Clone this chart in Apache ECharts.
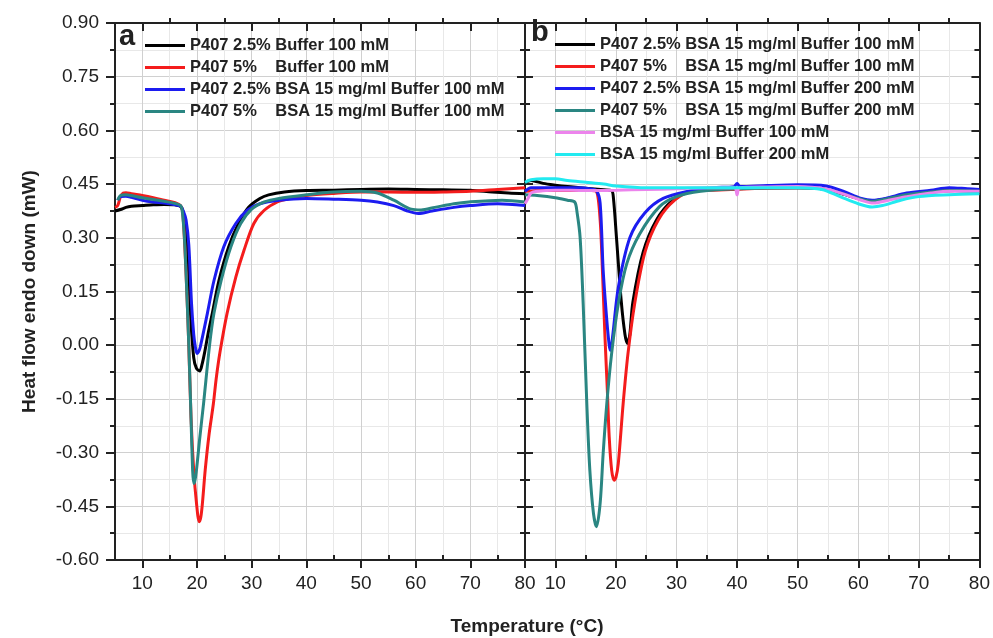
<!DOCTYPE html>
<html><head><meta charset="utf-8">
<script src="https://cdn.jsdelivr.net/npm/echarts@6/dist/echarts.min.js"></script>
<style>html,body{margin:0;padding:0;background:#fff}#c{width:993px;height:638px}</style>
</head><body><div id="c"></div><script>
// ---- tick labels ----
const xMajorTicks = [10, 20, 30, 40, 50, 60, 70, 80];
const xMinorTicks = [15, 25, 35, 45, 55, 65, 75];
const yTickLabels = ['-0.60','-0.45','-0.30','-0.15','0.00','0.15','0.30','0.45','0.60','0.75','0.90'];

// ---- legend labels ----
const labelsA = ['P407 2.5% Buffer 100 mM', 'P407 5%    Buffer 100 mM',
  'P407 2.5% BSA 15 mg/ml Buffer 100 mM', 'P407 5%    BSA 15 mg/ml Buffer 100 mM'];
const labelsB = ['P407 2.5% BSA 15 mg/ml Buffer 100 mM', 'P407 5%    BSA 15 mg/ml Buffer 100 mM',
  'P407 2.5% BSA 15 mg/ml Buffer 200 mM', 'P407 5%    BSA 15 mg/ml Buffer 200 mM',
  'BSA 15 mg/ml Buffer 100 mM', 'BSA 15 mg/ml Buffer 200 mM'];

// ---- panel a data: [temperature °C, heat flow mW] ----
const a1 = [[5,0.375],[6,0.379],[7,0.385],[8,0.388],[10,0.390],[12,0.392],[14,0.393],[16,0.392],[17,0.388],[17.5,0.37],[18.2,0.28],[18.8,0.089],[19.4,-0.035],[19.9,-0.065],[20.5,-0.072],[20.9,-0.055],[21.4,-0.02],[22.0,0.03],[22.8,0.089],[24.0,0.18],[25.8,0.275],[27.6,0.34],[29.4,0.385],[31.5,0.41],[33.1,0.42],[36,0.428],[40,0.432],[45,0.433],[50,0.435],[55,0.436],[60,0.435],[65,0.434],[70,0.433],[74,0.428],[77,0.425],[80,0.423]];
const a2 = [[5,0.385],[5.5,0.39],[6,0.415],[6.5,0.425],[7,0.426],[8,0.423],[10,0.418],[12,0.412],[14,0.405],[16,0.398],[17,0.39],[17.4,0.37],[18,0.2],[18.5,0.0],[18.9,-0.2],[19.4,-0.35],[19.9,-0.44],[20.4,-0.493],[20.7,-0.48],[21,-0.44],[21.5,-0.349],[22.2,-0.25],[23,-0.163],[23.5,-0.095],[24.2,-0.02],[25.5,0.089],[27.1,0.19],[28.6,0.265],[30.4,0.34],[32.3,0.377],[34.7,0.40],[37,0.41],[40,0.418],[45,0.424],[50,0.428],[55,0.428],[60,0.427],[65,0.428],[70,0.43],[75,0.435],[80,0.44]];
const a3 = [[5.5,0.405],[6,0.415],[7,0.416],[8,0.413],[10,0.405],[12,0.40],[14,0.397],[16,0.392],[17,0.388],[17.5,0.375],[18,0.35],[18.5,0.28],[19,0.116],[19.4,0.03],[19.7,-0.005],[20.0,-0.023],[20.3,-0.018],[20.6,-0.005],[21.9,0.089],[23.1,0.18],[24.9,0.275],[27.1,0.34],[29.2,0.377],[31.5,0.395],[35,0.405],[40,0.41],[45,0.408],[50,0.405],[53,0.40],[56,0.39],[58.5,0.375],[60.5,0.368],[63,0.375],[67,0.385],[70,0.39],[75,0.395],[80,0.39]];
const a4 = [[5.5,0.405],[6,0.418],[7,0.42],[8,0.418],[10,0.412],[12,0.407],[14,0.402],[16,0.396],[17,0.39],[17.3,0.375],[17.7,0.30],[18.0,0.2],[18.5,0.0],[18.9,-0.2],[19.2,-0.35],[19.4,-0.386],[19.6,-0.38],[19.9,-0.349],[20.5,-0.26],[21.2,-0.163],[22.3,0.0],[23.1,0.089],[24.4,0.18],[26.2,0.275],[28,0.34],[30,0.38],[32.3,0.40],[35,0.41],[40,0.42],[45,0.428],[50,0.43],[53,0.425],[56,0.405],[59.2,0.38],[61,0.378],[63.5,0.385],[67,0.395],[69.7,0.40],[75.8,0.405],[80,0.40]];

// ---- panel b data ----
const b1 = [[5,0.455],[6,0.46],[8,0.452],[10,0.447],[12,0.443],[14,0.44],[16,0.437],[18,0.434],[19.3,0.432],[19.6,0.41],[20.1,0.30],[20.9,0.12],[21.5,0.03],[21.9,0.005],[22.3,0.03],[22.8,0.12],[24.5,0.26],[26.7,0.35],[29.4,0.405],[32.2,0.43],[36,0.435],[40,0.437],[45,0.44],[50,0.44],[54,0.437],[57,0.425],[60,0.41],[62.3,0.403],[65,0.41],[68,0.42],[72,0.428],[76,0.432],[80,0.43]];
const b2 = [[5,0.43],[8,0.432],[12,0.432],[16,0.432],[16.8,0.43],[17.4,0.35],[17.8,0.2],[18.2,0.023],[18.6,-0.13],[18.9,-0.257],[19.3,-0.349],[19.7,-0.377],[20.0,-0.37],[20.4,-0.33],[21.2,-0.163],[22.0,-0.023],[23.1,0.116],[24.8,0.26],[27,0.35],[29.7,0.405],[32.5,0.43],[36,0.433],[42,0.437],[50,0.44],[54,0.437],[57,0.425],[60,0.41],[62.3,0.403],[65,0.41],[68,0.42],[72,0.428],[76,0.432],[80,0.43]];
const b3 = [[5,0.43],[6,0.44],[10,0.44],[14,0.44],[16,0.436],[16.8,0.432],[17.4,0.397],[17.9,0.21],[18.5,0.07],[18.9,0.0],[19.1,-0.014],[19.5,0.03],[20.4,0.161],[22.3,0.30],[24.8,0.37],[27.8,0.41],[32,0.43],[36,0.44],[39.5,0.443],[40,0.452],[40.5,0.443],[45,0.446],[50,0.448],[54.7,0.445],[57.5,0.43],[60.5,0.41],[62.3,0.405],[64.5,0.41],[68,0.425],[72,0.433],[75,0.44],[78,0.437],[80,0.435]];
const b4 = [[5,0.42],[7,0.418],[10,0.412],[12,0.405],[13.2,0.40],[13.6,0.37],[14.1,0.30],[14.6,0.116],[15.2,-0.163],[15.7,-0.349],[16.3,-0.47],[16.8,-0.507],[17.4,-0.442],[17.9,-0.302],[18.5,-0.163],[19.3,-0.023],[20.4,0.116],[21.8,0.228],[23.9,0.31],[27.2,0.387],[30,0.415],[34,0.43],[40,0.437],[50,0.44],[54,0.437],[57,0.425],[60,0.41],[62.3,0.402],[65,0.41],[68,0.42],[72,0.428],[76,0.432],[80,0.43]];
const b5 = [[5,0.395],[5.5,0.41],[6,0.425],[7,0.43],[10,0.433],[15,0.432],[20,0.433],[25,0.435],[30,0.437],[35,0.44],[39.6,0.44],[40,0.42],[40.4,0.44],[45,0.442],[50,0.443],[55,0.435],[58,0.42],[60.5,0.405],[62.5,0.397],[65,0.405],[68,0.415],[72,0.425],[75,0.43],[80,0.43]];
const b6 = [[5,0.455],[6,0.462],[8,0.465],[10,0.465],[12,0.46],[15,0.455],[18,0.45],[20,0.445],[25,0.44],[30,0.44],[40,0.44],[50,0.44],[54,0.435],[57,0.415],[60,0.395],[62.3,0.386],[64,0.39],[67,0.405],[70,0.415],[75,0.42],[80,0.423]];

const seriesA = [a1, a2, a3, a4];
const seriesB = [b1, b2, b3, b4, b5, b6];
const colorsA = ['#000000', '#f41c1c', '#1c1cf0', '#2a8682'];
const colorsB = ['#000000', '#f41c1c', '#1c1cf0', '#2a8682', '#ec84ec', '#22eaf0'];

const FONT = 'Liberation Sans, Arial, sans-serif';
const AX = '#222';
const MAJ = '#d0d0d0', MIN = '#e8e8e8';

function xAxes(g) {
  const base = {gridIndex: g, type: 'value', min: 5, max: 80, interval: 5};
  return [
    {...base, position: 'bottom',
      axisLine: {show: true, onZero: false, lineStyle: {color: AX, width: 2}},
      axisTick: {show: true, customValues: xMajorTicks, length: 8, lineStyle: {color: AX, width: 2}},
      axisLabel: {show: true, customValues: xMajorTicks, margin: 14, fontSize: 19, color: AX, fontFamily: FONT},
      splitLine: {show: true, lineStyle: {color: MAJ, width: 1}}},
    {...base, position: 'top',
      axisLine: {show: true, onZero: false, lineStyle: {color: AX, width: 2}},
      axisTick: {show: true, inside: true, customValues: xMajorTicks, length: 8, lineStyle: {color: AX, width: 2}},
      axisLabel: {show: false}, splitLine: {show: false}},
    {...base, position: 'top',
      axisLine: {show: false, onZero: false},
      axisTick: {show: true, customValues: xMinorTicks, length: 5, lineStyle: {color: AX, width: 2}},
      axisLabel: {show: false},
      splitLine: {show: true, lineStyle: {color: MIN, width: 1}}},
    {...base, position: 'bottom',
      axisLine: {show: false, onZero: false},
      axisTick: {show: true, inside: true, customValues: xMinorTicks, length: 5, lineStyle: {color: AX, width: 2}},
      axisLabel: {show: false}, splitLine: {show: false}}
  ];
}
function yAxis(g, pos, opts) {
  return Object.assign({
    gridIndex: g, type: 'value', min: -0.6, max: 0.9, interval: 0.15, position: pos,
    axisLine: {show: true, onZero: false, lineStyle: {color: AX, width: 2}},
    axisTick: {show: true, inside: true, length: 8, lineStyle: {color: AX, width: 2}},
    minorTick: {show: true, splitNumber: 2, length: 5, lineStyle: {color: AX, width: 2}},
    axisLabel: {show: false},
    splitLine: {show: false}
  }, opts);
}

const yAxes = [
  yAxis(0, 'left', {
    axisTick: {show: true, inside: false, length: 9, lineStyle: {color: AX, width: 2}},
    axisLabel: {show: true, margin: 16, fontSize: 19, color: AX, fontFamily: FONT,
      formatter: v => yTickLabels[Math.round((v + 0.6) / 0.15)]},
    splitLine: {show: true, lineStyle: {color: MAJ, width: 1}},
    minorSplitLine: {show: true, lineStyle: {color: MIN, width: 1}},
    name: 'Heat flow endo down (mW)', nameLocation: 'middle', nameGap: 76,
    nameTextStyle: {fontSize: 19, fontWeight: 'bold', color: AX, fontFamily: FONT}
  }),
  yAxis(0, 'right', {}),
  yAxis(1, 'left', {
    splitLine: {show: true, lineStyle: {color: MAJ, width: 1}},
    minorSplitLine: {show: true, lineStyle: {color: MIN, width: 1}}
  }),
  yAxis(1, 'right', {})
];

const series = [];
const nameMap = {};
seriesA.forEach((d, i) => {
  const id = 'a' + i; nameMap[id] = labelsA[i];
  series.push({name: id, type: 'line', xAxisIndex: 0, yAxisIndex: 0, data: d, showSymbol: false,
    smooth: 0.3, lineStyle: {width: 3, color: colorsA[i]}, itemStyle: {color: colorsA[i]}});
});
seriesB.forEach((d, i) => {
  const id = 'b' + i; nameMap[id] = labelsB[i];
  series.push({name: id, type: 'line', xAxisIndex: 4, yAxisIndex: 2, data: d, showSymbol: false,
    smooth: 0.3, lineStyle: {width: 3, color: colorsB[i]}, itemStyle: {color: colorsB[i]}});
});

const legendBase = {orient: 'vertical', icon: 'rect', itemWidth: 40, itemHeight: 3, itemGap: 5, padding: 0,
  selectedMode: false,
  textStyle: {fontSize: 16.5, fontWeight: 'bold', color: AX, fontFamily: FONT},
  formatter: n => nameMap[n]};

const chart = echarts.init(document.getElementById('c'), null, {renderer: 'canvas'});
chart.setOption({
  animation: false,
  backgroundColor: '#fff',
  grid: [
    {left: 115, top: 23, width: 410, height: 537},
    {left: 525, top: 23, width: 456, height: 537}
  ],
  xAxis: [...xAxes(0), ...xAxes(1)],
  yAxis: yAxes,
  legend: [
    {...legendBase, left: 145, top: 37, data: seriesA.map((d, i) => 'a' + i)},
    {...legendBase, left: 555, top: 36, data: seriesB.map((d, i) => 'b' + i)}
  ],
  graphic: [
    {type: 'text', left: 119, top: 22, style: {text: 'a', font: 'bold 29px ' + FONT, fill: AX}},
    {type: 'text', left: 531, top: 18, style: {text: 'b', font: 'bold 29px ' + FONT, fill: AX}},
    {type: 'text', x: 527, y: 627, style: {text: 'Temperature (°C)', font: 'bold 19px ' + FONT, fill: AX,
      textAlign: 'center', textVerticalAlign: 'middle'}}
  ],
  series: series
});
</script></body></html>
